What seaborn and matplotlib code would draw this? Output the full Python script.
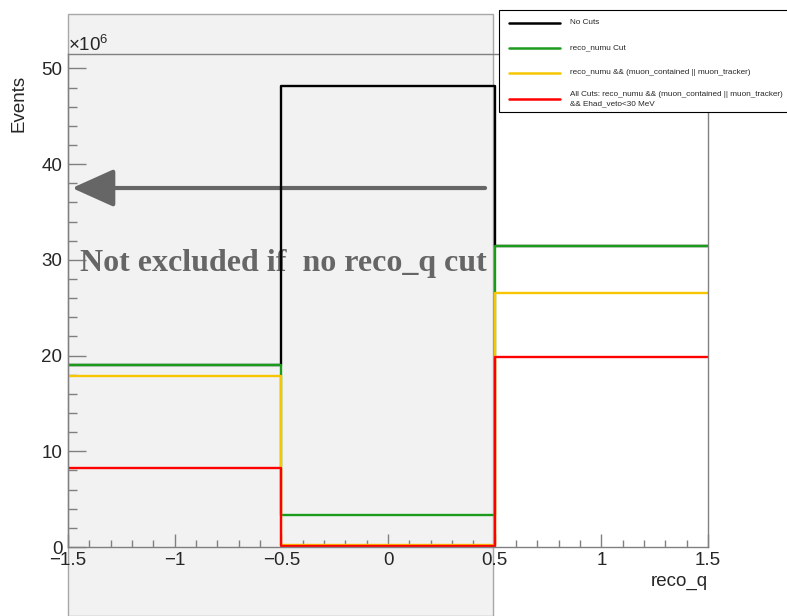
import numpy as np
import pandas as pd
import matplotlib
matplotlib.use("Agg")
import matplotlib.pyplot as plt
from matplotlib.patches import Rectangle
from matplotlib.lines import Line2D
from matplotlib.ticker import MultipleLocator
import seaborn as sns

# ---------------- data (Events, in units of 1e6) ----------------
bin_edges = [-1.5, -0.5, 0.5, 1.5]
bin_centers = [-1.0, 0.0, 1.0]
no_cuts = [19.0, 48.2, 31.4]
reco_numu = [19.0, 3.3, 31.4]
numu_muon = [17.9, 0.25, 26.5]
all_cuts = [8.3, 0.15, 19.8]
series_labels = [
    "No Cuts",
    "reco_numu Cut",
    "reco_numu && (muon_contained || muon_tracker)",
    "All Cuts: reco_numu && (muon_contained || muon_tracker)\n&& Ehad_veto<30 MeV",
]
series_values = [no_cuts, reco_numu, numu_muon, all_cuts]
series_colors = ["#000000", "#1c9a1c", "#f7c600", "#ff0000"]
x_ticks = [-1.5, -1, -0.5, 0, 0.5, 1, 1.5]
x_ticklabels = ["\u22121.5", "\u22121", "\u22120.5", "0", "0.5", "1", "1.5"]
y_ticks = [0, 10, 20, 30, 40, 50]

sns.set_style("white")
plt.rcParams["font.family"] = ["Liberation Sans", "DejaVu Sans"]
plt.rcParams["mathtext.fontset"] = "custom"
plt.rcParams["mathtext.rm"] = "Liberation Sans"
plt.rcParams["mathtext.it"] = "Liberation Sans:italic"

W, H = 787, 616
fig = plt.figure(figsize=(W / 100, H / 100), dpi=100)
fig.patch.set_facecolor("white")


def fx(px):
    return px / W


def fy(py):
    return 1 - py / H


# gray shaded region (excluded area), extends beyond axes
fig.patches.append(Rectangle((fx(68), 0), fx(493) - fx(68), fy(14),
                             transform=fig.transFigure, facecolor="#f2f2f2",
                             edgecolor="#a8a8a8", linewidth=1.0, zorder=-5))

ax = fig.add_axes([fx(68), fy(547), fx(708) - fx(68), fy(54) - fy(547)])
ax.set_facecolor("none")

for lab, vals, col in zip(series_labels, series_values, series_colors):
    df = pd.DataFrame({"x": bin_centers, "w": vals})
    sns.histplot(data=df, x="x", weights="w", bins=bin_edges, element="step",
                 fill=False, color=col, linewidth=1.7, ax=ax, legend=False)

ax.set_xlim(-1.5, 1.5)
ax.set_ylim(0, 51.5)
ax.set_xticks(x_ticks)
ax.set_xticklabels(x_ticklabels)
ax.set_yticks(y_ticks)
ax.xaxis.set_minor_locator(MultipleLocator(0.1))
ax.yaxis.set_minor_locator(MultipleLocator(2))
spine_col = "#808080"
for s in ax.spines.values():
    s.set_color(spine_col)
    s.set_linewidth(1.0)
ax.tick_params(axis="x", which="major", direction="in", length=9.4, width=1,
               color=spine_col, labelsize=13.5, pad=3.5, bottom=True)
ax.tick_params(axis="x", which="minor", direction="in", length=4.7, width=1,
               color=spine_col, bottom=True)
ax.tick_params(axis="y", which="major", direction="in", length=13, width=1,
               color=spine_col, labelsize=13.5, pad=4, left=True)
ax.tick_params(axis="y", which="minor", direction="in", length=6.5, width=1,
               color=spine_col, left=True)

ax.set_xlabel("reco_q", fontsize=13.5, loc="right")
ax.xaxis.set_label_coords(1.0, -0.052)
ax.set_ylabel("Events", fontsize=13.5, loc="top")
ax.yaxis.set_label_coords(-0.063, 0.957)

ax.text(0.0, 1.0 + 3 / 493, r"$\times$10$^{6}$", transform=ax.transAxes,
        fontsize=13.5, ha="left", va="baseline")

# arrow and annotation
ax.annotate("", xy=(-1.481, 37.5), xytext=(0.455, 37.5),
            arrowprops=dict(arrowstyle="-|>,head_length=1.0,head_width=0.45",
                            color="#666666", lw=3, mutation_scale=26,
                            shrinkA=0, shrinkB=0), zorder=1)
ax.text(-1.442, 28.83, "Not excluded if  no reco_q cut",
        family=["Liberation Serif", "DejaVu Serif"], weight="bold",
        fontsize=23, color="#666666", ha="left", va="baseline", zorder=1)

# legend box (ROOT TLegend style), drawn in figure pixels
fig.patches.append(Rectangle((fx(499), fy(112)), fx(800) - fx(499), fy(10) - fy(112),
                             transform=fig.transFigure, facecolor="white",
                             edgecolor="black", linewidth=0.8, zorder=20))
entry_y = [23, 48, 73, 99]
for lab, col, yy in zip(series_labels, series_colors, entry_y):
    fig.lines.append(Line2D([fx(509), fx(560)], [fy(yy), fy(yy)],
                            transform=fig.transFigure, color=col,
                            linewidth=1.8, zorder=21))
    fig.text(fx(570), fy(yy), lab, fontsize=5.9, ha="left", va="center",
             linespacing=1.4, zorder=22)

fig.savefig("out.png", dpi=100)
